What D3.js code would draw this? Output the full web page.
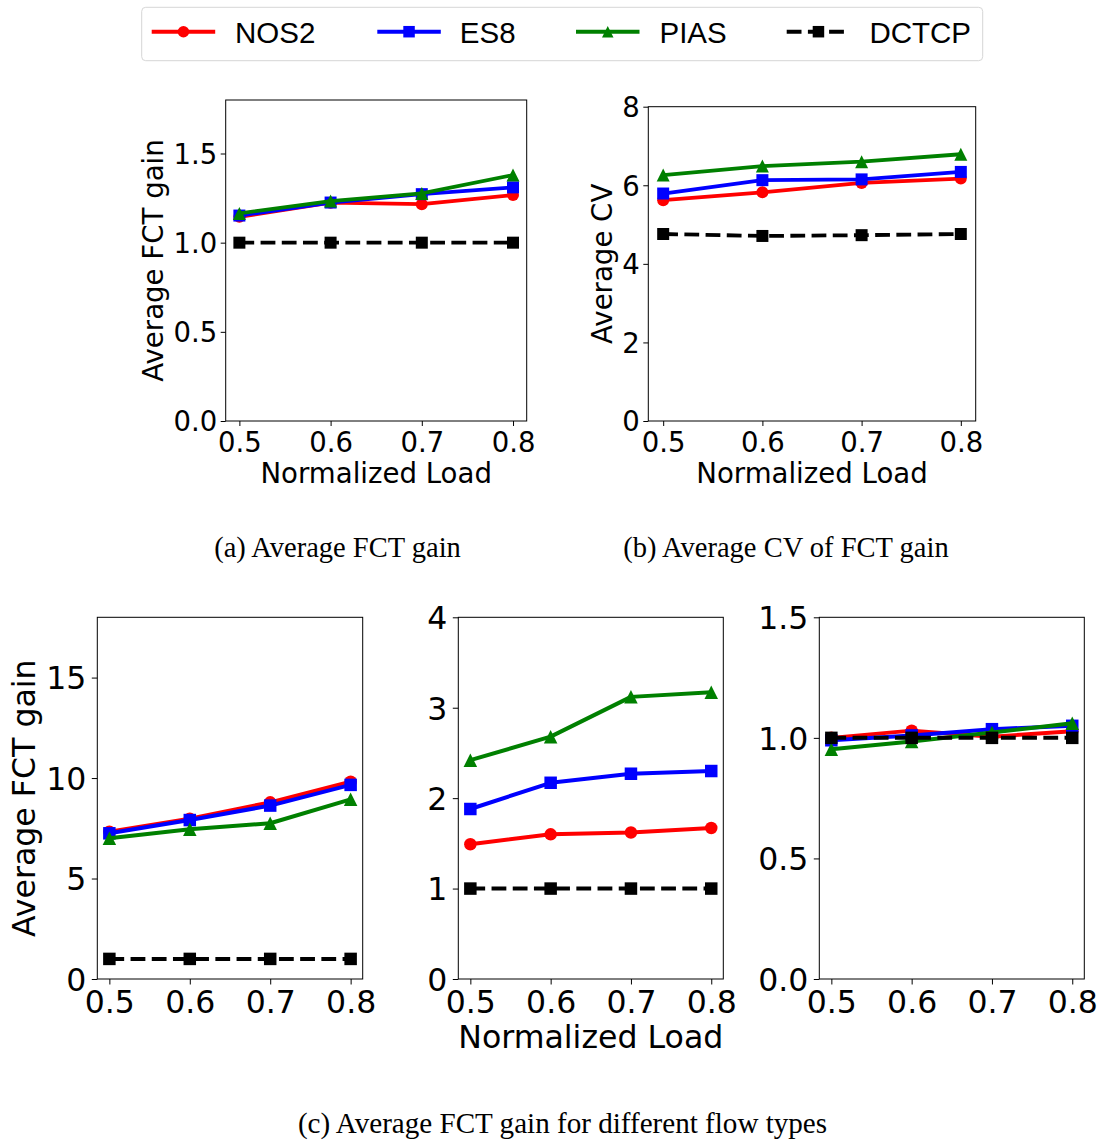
<!DOCTYPE html>
<html>
<head>
<meta charset="utf-8">
<script src="https://cdn.jsdelivr.net/npm/d3@7"></script>
<style>
  html, body { margin: 0; padding: 0; background: #fff; }
  svg { display: block; }
</style>
</head>
<body>
<svg id="fig" width="1102" height="1140"></svg>
<script>
// Normalized load levels on every x axis
const loads = [0.5, 0.6, 0.7, 0.8];
const schemes = ["NOS2", "ES8", "PIAS", "DCTCP"];

// (a) Average FCT gain
const avgGainNOS2  = [1.145, 1.224, 1.216, 1.267];
const avgGainES8   = [1.152, 1.225, 1.272, 1.310];
const avgGainPIAS  = [1.164, 1.233, 1.276, 1.379];
const avgGainDCTCP = [1.0, 1.0, 1.0, 1.0];

// (b) Average CV of FCT gain
const cvNOS2  = [5.62, 5.82, 6.06, 6.17];
const cvES8   = [5.79, 6.13, 6.15, 6.34];
const cvPIAS  = [6.26, 6.49, 6.60, 6.79];
const cvDCTCP = [4.76, 4.71, 4.73, 4.76];

// (c) Average FCT gain per flow type
const type1NOS2  = [7.33, 7.98, 8.79, 9.82];
const type1ES8   = [7.25, 7.91, 8.63, 9.66];
const type1PIAS  = [7.00, 7.45, 7.75, 8.94];
const type1DCTCP = [1.0, 1.0, 1.0, 1.0];

const type2NOS2  = [1.49, 1.60, 1.62, 1.67];
const type2ES8   = [1.88, 2.17, 2.27, 2.30];
const type2PIAS  = [2.42, 2.68, 3.12, 3.17];
const type2DCTCP = [1.0, 1.0, 1.0, 1.0];

const type3NOS2  = [1.000, 1.030, 1.005, 1.027];
const type3ES8   = [0.990, 1.010, 1.036, 1.050];
const type3PIAS  = [0.953, 0.985, 1.022, 1.061];
const type3DCTCP = [1.0, 1.0, 1.0, 1.0];

// Tick values
const ticksGain = [0, 0.5, 1.0, 1.5];
const ticksCV = [0, 2, 4, 6, 8];
const ticksType1 = [0, 5, 10, 15];
const ticksType2 = [0, 1, 2, 3, 4];
const ticksType3 = [0, 0.5, 1.0, 1.5];

// Captions
const captionA = "(a) Average FCT gain";
const captionB = "(b) Average CV of FCT gain";
const captionC = "(c) Average FCT gain for different flow types";

const style = {
  NOS2:  { color: "#ff0000", marker: "circle",   dash: null },
  ES8:   { color: "#0000ff", marker: "square",   dash: null },
  PIAS:  { color: "#008000", marker: "triangle", dash: null },
  DCTCP: { color: "#000000", marker: "square",   dash: "14.8,6.4" }
};

const svg = d3.select("#fig");
svg.append("rect").attr("width", 1102).attr("height", 1140).attr("fill", "#fff");

const SANS = "'DejaVu Sans', sans-serif";

function markerPath(kind, s) {
  const h = s / 2;
  if (kind === "circle") {
    return `M${-h},0A${h},${h} 0 1,0 ${h},0A${h},${h} 0 1,0 ${-h},0Z`;
  }
  if (kind === "square") {
    return `M${-h},${-h}H${h}V${h}H${-h}Z`;
  }
  return `M0,${-h}L${h},${h}L${-h},${h}Z`;
}

function drawPanel(cfg) {
  const g = svg.append("g");
  const x = d3.scaleLinear().domain([0.485, 0.815]).range([cfg.x0, cfg.x1]);
  const y = d3.scaleLinear().domain(cfg.yDomain).range([cfg.y1, cfg.y0]);

  // series lines and markers
  cfg.series.forEach(([name, vals]) => {
    const st = style[name];
    const pts = loads.map((l, i) => [l, vals[i]]);
    const line = d3.line().x(d => x(d[0])).y(d => y(d[1]));
    g.append("path")
      .attr("d", line(pts))
      .attr("fill", "none")
      .attr("stroke", st.color)
      .attr("stroke-width", cfg.lw)
      .attr("stroke-linejoin", "round")
      .attr("stroke-dasharray", st.dash);
    g.selectAll(null).data(pts).enter().append("path")
      .attr("transform", d => `translate(${x(d[0])},${y(d[1])})`)
      .attr("d", markerPath(st.marker, st.marker === "triangle" ? cfg.ms + 1 : cfg.ms))
      .attr("fill", st.color);
  });

  // frame
  g.append("rect")
    .attr("x", cfg.x0).attr("y", cfg.y0)
    .attr("width", cfg.x1 - cfg.x0).attr("height", cfg.y1 - cfg.y0)
    .attr("fill", "none").attr("stroke", "#000").attr("stroke-width", 1);

  // y axis
  const ya = g.append("g").attr("transform", `translate(${cfg.x0},0)`)
    .call(d3.axisLeft(y).tickValues(cfg.yTicks).tickFormat(d3.format(cfg.yFmt))
      .tickSize(cfg.tick).tickPadding(cfg.pad));
  ya.select(".domain").remove();
  ya.selectAll("line").attr("stroke", "#000");
  ya.selectAll("text").attr("font-family", SANS).attr("font-size", cfg.tickFont)
    .attr("fill", "#000").attr("dy", "0.36em");

  // x axis
  const xa = g.append("g").attr("transform", `translate(0,${cfg.y1})`)
    .call(d3.axisBottom(x).tickValues(loads).tickFormat(d3.format(".1f"))
      .tickSize(cfg.tick));
  xa.select(".domain").remove();
  xa.selectAll("line").attr("stroke", "#000");
  xa.selectAll("text").attr("font-family", SANS).attr("font-size", cfg.tickFont)
    .attr("fill", "#000").attr("dy", null).attr("y", cfg.xTickBase);

  if (cfg.xLabel) {
    g.append("text")
      .attr("x", (cfg.x0 + cfg.x1) / 2).attr("y", cfg.xLabelBase)
      .attr("text-anchor", "middle")
      .attr("font-family", SANS).attr("font-size", cfg.labelFont)
      .text(cfg.xLabel);
  }
  if (cfg.yLabel) {
    const cy = (cfg.y0 + cfg.y1) / 2;
    g.append("text")
      .attr("transform", `translate(${cfg.yLabelBase},${cy}) rotate(-90)`)
      .attr("text-anchor", "middle")
      .attr("font-family", SANS).attr("font-size", cfg.labelFont)
      .text(cfg.yLabel);
  }
}

const topCommon = { tick: 5, pad: 3.5, tickFont: 27.5, labelFont: 27.6, lw: 3.8, ms: 12,
  xTickBase: 30.7, xLabelBase: 482.7 };
const botCommon = { tick: 5.5, pad: 5.5, tickFont: 31.5, labelFont: 31.6, lw: 4, ms: 12.5,
  xTickBase: 33.9, xLabelBase: 1048.3 };

drawPanel(Object.assign({}, topCommon, {
  x0: 225.7, x1: 526.7, y0: 100, y1: 421, yDomain: [0, 1.8],
  yTicks: ticksGain, yFmt: ".1f",
  xLabel: "Normalized Load", yLabel: "Average FCT gain", yLabelBase: 162.5,
  series: [["NOS2", avgGainNOS2], ["ES8", avgGainES8], ["PIAS", avgGainPIAS], ["DCTCP", avgGainDCTCP]]
}));

drawPanel(Object.assign({}, topCommon, {
  x0: 648.3, x1: 975.7, y0: 106.7, y1: 421, yDomain: [0, 8],
  yTicks: ticksCV, yFmt: "d",
  xLabel: "Normalized Load", yLabel: "Average CV", yLabelBase: 612.4,
  series: [["NOS2", cvNOS2], ["ES8", cvES8], ["PIAS", cvPIAS], ["DCTCP", cvDCTCP]]
}));

drawPanel(Object.assign({}, botCommon, {
  x0: 97.3, x1: 362.7, y0: 617.3, y1: 979, yDomain: [0, 18],
  yTicks: ticksType1, yFmt: "d",
  yLabel: "Average FCT gain", yLabelBase: 34.5,
  series: [["NOS2", type1NOS2], ["ES8", type1ES8], ["PIAS", type1PIAS], ["DCTCP", type1DCTCP]]
}));

drawPanel(Object.assign({}, botCommon, {
  x0: 458.3, x1: 723.3, y0: 617.3, y1: 979, yDomain: [0, 4],
  yTicks: ticksType2, yFmt: "d",
  xLabel: "Normalized Load",
  series: [["NOS2", type2NOS2], ["ES8", type2ES8], ["PIAS", type2PIAS], ["DCTCP", type2DCTCP]]
}));

drawPanel(Object.assign({}, botCommon, {
  x0: 819.3, x1: 1084.3, y0: 617.3, y1: 979, yDomain: [0, 1.5],
  yTicks: ticksType3, yFmt: ".1f",
  series: [["NOS2", type3NOS2], ["ES8", type3ES8], ["PIAS", type3PIAS], ["DCTCP", type3DCTCP]]
}));

// Legend
const legend = svg.append("g");
legend.append("rect")
  .attr("x", 141.7).attr("y", 7.3).attr("width", 841).attr("height", 53.4)
  .attr("rx", 4).attr("fill", "#fff").attr("stroke", "#d6d6d6").attr("stroke-width", 1);
const legendText = { NOS2: 235, ES8: 459.8, PIAS: 659.5, DCTCP: 869.4 };
const legendStart = { NOS2: 151.7, ES8: 377.3, PIAS: 576, DCTCP: 786.7 };
schemes.forEach(name => {
  const st = style[name];
  const x0 = legendStart[name], x1 = x0 + 63.5, ly = 31.7;
  legend.append("path")
    .attr("d", `M${x0},${ly}H${x1}`)
    .attr("stroke", st.color).attr("stroke-width", 4)
    .attr("stroke-dasharray", st.dash);
  legend.append("path")
    .attr("transform", `translate(${(x0 + x1) / 2},${ly})`)
    .attr("d", markerPath(st.marker, 11.5))
    .attr("fill", st.color);
  legend.append("text")
    .attr("x", legendText[name]).attr("y", 42.5)
    .attr("font-family", "'Liberation Sans', Arial, sans-serif")
    .attr("font-size", 29.5).attr("fill", "#000")
    .text(name);
});

// Sub-figure captions
const SERIF = "'Liberation Serif', 'Times New Roman', serif";
[[captionA, 337.5, 557, 28.5], [captionB, 786, 557, 28.5], [captionC, 562.5, 1132.5, 29.1]].forEach(([t, cx, by, fs]) => {
  svg.append("text")
    .attr("x", cx).attr("y", by)
    .attr("text-anchor", "middle")
    .attr("font-family", SERIF).attr("font-size", fs).attr("fill", "#000")
    .text(t);
});
</script>
</body>
</html>
